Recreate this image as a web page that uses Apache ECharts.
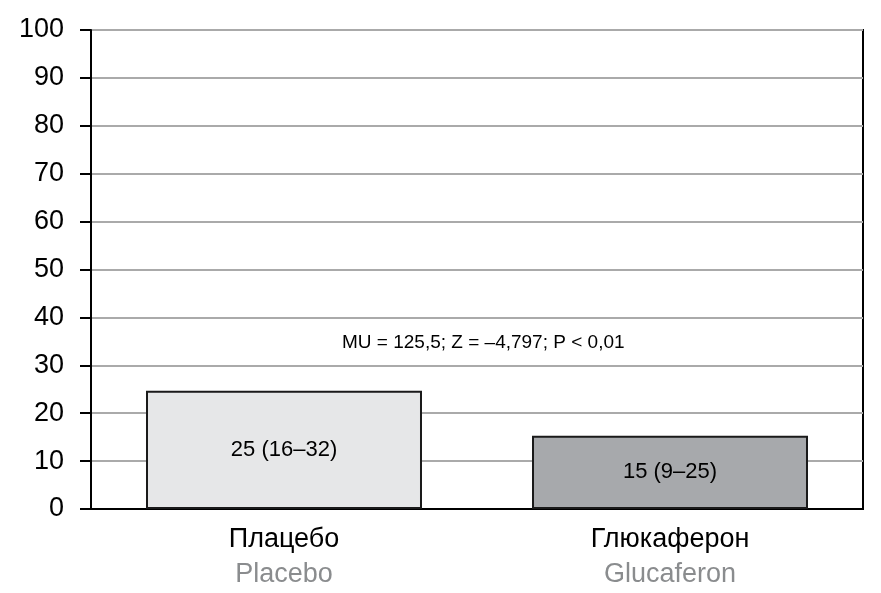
<!DOCTYPE html>
<html><head><meta charset="utf-8">
<script src="https://cdn.jsdelivr.net/npm/echarts@6/dist/echarts.min.js"></script>
<style>html,body{margin:0;padding:0;background:#fff}#c{width:881px;height:593px}</style>
</head><body><div id="c"></div>
<script>
const categoriesRu = ['Плацебо', 'Глюкаферон'];
const categoriesEn = ['Placebo', 'Glucaferon'];
const values = [24.7, 15.3];
const barLabels = ['25 (16–32)', '15 (9–25)'];
const barColors = ['#e6e7e8', '#a7a9ac'];
const annotation = 'MU = 125,5; Z = –4,797; P < 0,01';

const chart = echarts.init(document.getElementById('c'));
const font = '"Liberation Sans", Arial, sans-serif';
chart.setOption({
  animation: false,
  grid: {left: 91, right: 18, top: 30, bottom: 84, outerBoundsMode: 'none', containLabel: false, show: true, borderColor: '#000', borderWidth: 2, backgroundColor: 'transparent'},
  xAxis: {
    type: 'category',
    data: categoriesRu.map((r, i) => r + '\n{en|' + categoriesEn[i] + '}'),
    axisTick: {show: false},
    axisLine: {lineStyle: {color: '#000', width: 2}},
    axisLabel: {
      color: '#000', fontSize: 27, fontFamily: font, margin: 13, lineHeight: 35,
      rich: {en: {color: '#8a8c8e', fontSize: 27, fontFamily: font, lineHeight: 35}}
    }
  },
  yAxis: {
    type: 'value', min: 0, max: 100, interval: 10,
    axisLine: {show: true, lineStyle: {color: '#000', width: 2}},
    axisTick: {show: true, inside: false, length: 11, lineStyle: {color: '#000', width: 2}},
    axisLabel: {color: '#000', fontSize: 27, fontFamily: font, margin: 27},
    splitLine: {show: true, lineStyle: {color: '#aaaaaa', width: 2}}
  },
  series: [{
    type: 'bar',
    barWidth: '71.5%',
    data: values.map((v, i) => ({value: v, itemStyle: {color: barColors[i]}, label: {formatter: barLabels[i]}})),
    itemStyle: {borderColor: '#1a1a1a', borderWidth: 2},
    label: {show: true, position: 'inside', color: '#000', fontSize: 22, fontFamily: font}
  }],
  graphic: [{
    type: 'text', left: 342, top: 333,
    style: {text: annotation, fill: '#000', fontSize: 19, fontFamily: font}
  }]
});
</script></body></html>
